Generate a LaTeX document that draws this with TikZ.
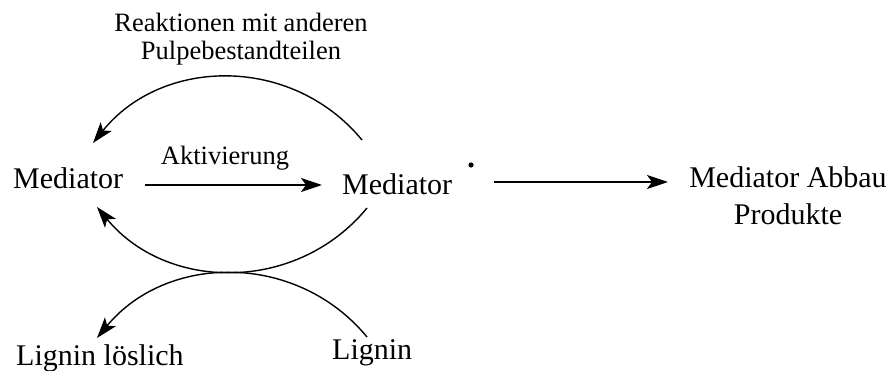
\documentclass[tikz,border=0pt]{standalone}
\usepackage{fontspec}
\setmainfont{Liberation Serif}
\usetikzlibrary{arrows.meta}
\begin{document}
\begin{tikzpicture}[x=1pt,y=-1pt,
  big/.style={inner sep=0pt,font=\fontsize{30}{37}\selectfont},
  small/.style={inner sep=0pt,font=\fontsize{26.5}{28}\selectfont},
  tip/.style={-{Stealth[length=21pt,width=14pt,inset=5pt]}},
  straight/.style={tip,line width=1.9pt},
  curved/.style={tip,line width=1.4pt}]
\useasboundingbox (0,0) rectangle (894,371);

% species (the base anchor of a two-line node is its last line)
\node[big,anchor=base west] (m1) at (13,189) {Mediator};
\node[big,anchor=base west] (m2) at (342,195) {Mediator};
\fill (471,165) circle[radius=2.6pt] node (rad) {};
\node[big,anchor=base,align=center] (prod) at (788,225) {Mediator Abbau\\Produkte};
\node[big,anchor=base west] (ll) at (16,365) {Lignin löslich};
\node[big,anchor=base west] (lig) at (332,359) {Lignin};

% reaction labels
\node[small,anchor=base] (act) at (225,165) {Aktivierung};
\node[small,anchor=base,align=center] (react) at (241,60) {Reaktionen mit anderen\\Pulpebestandteilen};

% connector end points, placed around the species
\coordinate (actS) at ([shift={(22,-4)}]m1.base east);
\coordinate (actE) at ([shift={(-20,-10)}]m2.base west);
\coordinate (degS) at ([shift={(23,17)}]rad.center);
\coordinate (degE) at (668,182);
\coordinate (topS) at ([shift={(20,-55)}]m2.base west);
\coordinate (topE) at ([shift={(80,-46)}]m1.base west);
\coordinate (midS) at ([shift={(25,13)}]m2.base west);
\coordinate (midE) at ([shift={(84,18)}]m1.base west);
\coordinate (lowS) at ([shift={(35,-22)}]lig.base west);
\coordinate (lowE) at ([shift={(81,-27)}]ll.base west);

% straight reactions
\draw[straight] (actS) -- (actE);
\draw[straight] (degS) -- (degE);

% curved reactions
\draw[curved] (topS) .. controls +(-70,-85) and +(69,-86) .. (topE);
\draw[curved] (midS) .. controls +(-70,85) and +(70,85) .. (midE);
\draw[curved] (lowS) .. controls +(-70,-85) and +(70,-85) .. (lowE);
\end{tikzpicture}
\end{document}
